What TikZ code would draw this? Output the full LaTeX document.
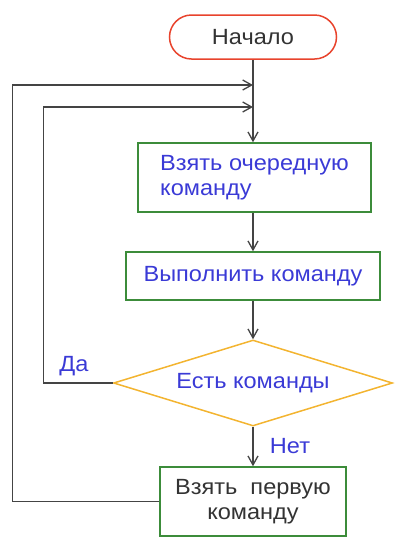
\documentclass[tikz,border=0pt]{standalone}
\usepackage{fontspec}
\setmainfont[FakeStretch=1.07]{Liberation Sans}
\usetikzlibrary{shapes.geometric,arrows.meta}
\definecolor{termred}{HTML}{E8432C}
\definecolor{boxgreen}{HTML}{3C8C3A}
\definecolor{diaorange}{HTML}{F3B430}
\definecolor{txtblue}{HTML}{3A3AD6}
\definecolor{linegray}{HTML}{444444}
\definecolor{txtgray}{HTML}{333333}
\begin{document}
\begin{tikzpicture}[x=1pt,y=-1pt,
  every node/.style={font=\fontsize{22}{25}\selectfont},
  term/.style={draw=termred,line width=1.5pt,rounded corners=22pt,minimum width=167pt,minimum height=44pt,inner sep=0pt,text=txtgray},
  procbox/.style={draw=boxgreen,line width=1.5pt,inner sep=0pt,align=left},
  decision/.style={draw=diaorange,line width=1.5pt,diamond,aspect=3.24,minimum width=279pt,minimum height=86pt,inner sep=0pt,text=txtblue},
  conn/.style={draw=linegray,line width=1.3pt},
  arr/.style={conn,-{Straight Barb[length=9pt,width=10pt,line width=1.3pt]}},
  lbl/.style={text=txtblue}]
\useasboundingbox (0,0) rectangle (403,542);
\node[term] (start) at (253,37) {Начало};
\node[procbox,minimum width=233pt,minimum height=69pt,text=txtblue] (b1) at (254.5,177.5) {Взять очередную\\команду};
\node[procbox,minimum width=254pt,minimum height=48pt,text=txtblue] (b2) at (253,276) {Выполнить команду};
\node[decision] (dia) at (253,383) {Есть команды};
\node[procbox,minimum width=186pt,minimum height=69pt,text=txtgray,align=center] (b3) at (253,501.5) {Взять\ \ первую\\команду};
\coordinate (j1) at (253,85);
\coordinate (j2) at (253,107);
\node[lbl] (da) at (74,366) {Да};
\node[lbl] (net) at (290,446) {Нет};
\draw[arr] (start.south) -- (start.south |- b1.north);
\draw[arr] (b1.south -| start.south) -- (start.south |- b2.north);
\draw[arr] (b2.south -| start.south) -- (dia.north);
\draw[arr] (dia.south) -- (b3.north);
\draw[arr] (b3.west) -- ++(-147,0) |- (j1);
\draw[arr] (dia.west) -- ++(-69,0) |- (j2);
\end{tikzpicture}
\end{document}
